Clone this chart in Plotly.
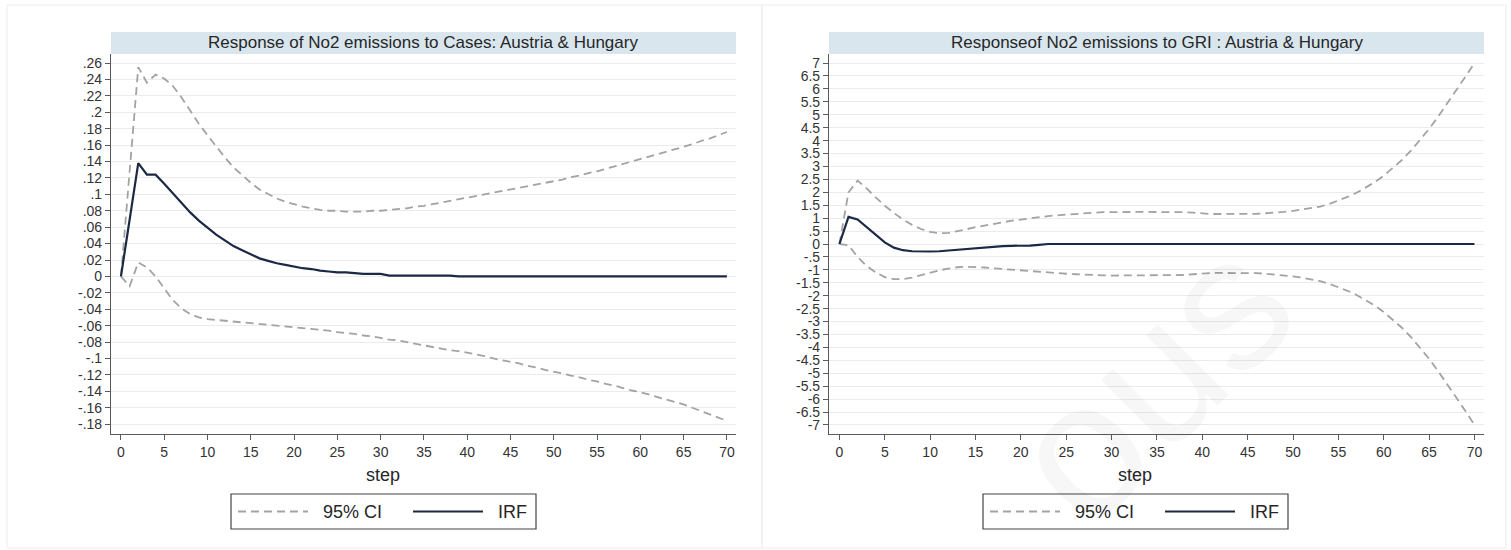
import plotly.graph_objects as go

# ---------------- data ----------------
steps = list(range(0, 71))

irf_cases = [0.0, 0.069, 0.138, 0.124, 0.124, 0.113, 0.101, 0.090, 0.078, 0.068,
             0.059, 0.051, 0.044, 0.037, 0.032, 0.027, 0.022, 0.019, 0.016, 0.014,
             0.012, 0.010, 0.009, 0.007, 0.006, 0.005, 0.005, 0.004, 0.003, 0.003,
             0.003, 0.001, 0.001, 0.001, 0.001, 0.001, 0.001, 0.001, 0.001, 0.0,
             0.0, 0.0, 0.0, 0.0, 0.0, 0.0, 0.0, 0.0, 0.0, 0.0,
             0.0, 0.0, 0.0, 0.0, 0.0, 0.0, 0.0, 0.0, 0.0, 0.0,
             0.0, 0.0, 0.0, 0.0, 0.0, 0.0, 0.0, 0.0, 0.0, 0.0, 0.0]
upper_cases = [0.0, 0.130, 0.255, 0.236, 0.246, 0.241, 0.232, 0.218, 0.202, 0.186,
               0.172, 0.158, 0.145, 0.133, 0.123, 0.114, 0.106, 0.100, 0.095, 0.091,
               0.088, 0.085, 0.083, 0.081, 0.080, 0.080, 0.079, 0.079, 0.079, 0.080,
               0.080, 0.081, 0.082, 0.083, 0.085, 0.086, 0.088, 0.090, 0.092, 0.094,
               0.096, 0.098, 0.100, 0.102, 0.104, 0.106, 0.108, 0.110, 0.112, 0.114,
               0.116, 0.118, 0.121, 0.123, 0.126, 0.128, 0.131, 0.134, 0.137, 0.140,
               0.143, 0.146, 0.149, 0.152, 0.155, 0.158, 0.161, 0.165, 0.168, 0.172, 0.176]
lower_cases = [0.0, -0.012, 0.017, 0.011, 0.000, -0.014, -0.029, -0.039, -0.046, -0.050,
               -0.052, -0.053, -0.054, -0.055, -0.056, -0.057, -0.058, -0.059, -0.060, -0.061,
               -0.062, -0.063, -0.064, -0.065, -0.066, -0.068, -0.069, -0.070, -0.072, -0.073,
               -0.075, -0.077, -0.078, -0.080, -0.082, -0.084, -0.086, -0.088, -0.090, -0.091,
               -0.093, -0.095, -0.097, -0.100, -0.102, -0.104, -0.106, -0.109, -0.111, -0.114,
               -0.116, -0.118, -0.121, -0.123, -0.126, -0.128, -0.131, -0.133, -0.136, -0.139,
               -0.141, -0.144, -0.147, -0.150, -0.153, -0.156, -0.160, -0.164, -0.168, -0.172, -0.176]

irf_gri = [0.0, 1.05, 0.95, 0.66, 0.34, 0.06, -0.14, -0.24, -0.28, -0.29,
           -0.29, -0.28, -0.25, -0.22, -0.19, -0.16, -0.13, -0.10, -0.08, -0.07,
           -0.07, -0.06, -0.03, 0.0, 0.0, 0.0, 0.0, 0.0, 0.0, 0.0,
           0.0, 0.0, 0.0, 0.0, 0.0, 0.0, 0.0, 0.0, 0.0, 0.0,
           0.0, 0.0, 0.0, 0.0, 0.0, 0.0, 0.0, 0.0, 0.0, 0.0,
           0.0, 0.0, 0.0, 0.0, 0.0, 0.0, 0.0, 0.0, 0.0, 0.0,
           0.0, 0.0, 0.0, 0.0, 0.0, 0.0, 0.0, 0.0, 0.0, 0.0, 0.0]
upper_gri = [0.0, 2.00, 2.45, 2.15, 1.80, 1.48, 1.20, 0.95, 0.74, 0.58,
             0.47, 0.42, 0.43, 0.49, 0.57, 0.65, 0.72, 0.79, 0.84, 0.90,
             0.95, 1.00, 1.05, 1.08, 1.11, 1.14, 1.17, 1.19, 1.21, 1.23,
             1.24, 1.24, 1.24, 1.24, 1.24, 1.24, 1.24, 1.24, 1.23, 1.21,
             1.18, 1.16, 1.16, 1.16, 1.16, 1.16, 1.17, 1.19, 1.21, 1.24,
             1.28, 1.33, 1.38, 1.45, 1.55, 1.67, 1.82, 1.98, 2.17, 2.39,
             2.64, 2.93, 3.25, 3.61, 4.01, 4.45, 4.93, 5.43, 5.95, 6.47, 7.00]
lower_gri = [0.0, -0.05, -0.50, -0.85, -1.10, -1.28, -1.36, -1.36, -1.30, -1.20,
             -1.10, -1.02, -0.95, -0.90, -0.88, -0.89, -0.91, -0.94, -0.97, -1.00,
             -1.02, -1.05, -1.08, -1.10, -1.12, -1.15, -1.17, -1.19, -1.20, -1.21,
             -1.22, -1.22, -1.22, -1.22, -1.22, -1.22, -1.22, -1.22, -1.20, -1.17,
             -1.14, -1.12, -1.12, -1.12, -1.12, -1.12, -1.13, -1.15, -1.18, -1.21,
             -1.25, -1.30, -1.36, -1.44, -1.54, -1.66, -1.81, -1.97, -2.16, -2.38,
             -2.63, -2.92, -3.24, -3.60, -4.00, -4.44, -4.92, -5.42, -5.94, -6.46, -7.00]

x_ticks = [0, 5, 10, 15, 20, 25, 30, 35, 40, 45, 50, 55, 60, 65, 70]

y_ticks_cases = [0.26, 0.24, 0.22, 0.20, 0.18, 0.16, 0.14, 0.12, 0.10, 0.08, 0.06, 0.04, 0.02, 0.0,
                 -0.02, -0.04, -0.06, -0.08, -0.10, -0.12, -0.14, -0.16, -0.18]
y_labels_cases = [".26", ".24", ".22", ".2", ".18", ".16", ".14", ".12", ".1", ".08", ".06", ".04", ".02", "0",
                  "-.02", "-.04", "-.06", "-.08", "-.1", "-.12", "-.14", "-.16", "-.18"]

y_ticks_gri = [7, 6.5, 6, 5.5, 5, 4.5, 4, 3.5, 3, 2.5, 2, 1.5, 1, 0.5, 0,
               -0.5, -1, -1.5, -2, -2.5, -3, -3.5, -4, -4.5, -5, -5.5, -6, -6.5, -7]
y_labels_gri = ["7", "6.5", "6", "5.5", "5", "4.5", "4", "3.5", "3", "2.5", "2", "1.5", "1", ".5", "0",
                "-.5", "-1", "-1.5", "-2", "-2.5", "-3", "-3.5", "-4", "-4.5", "-5", "-5.5", "-6", "-6.5", "-7"]

title_cases = "Response of No2 emissions to Cases: Austria & Hungary"
title_gri = "Responseof No2 emissions to GRI : Austria & Hungary"
x_title = "step"
legend_ci = "95% CI"
legend_irf = "IRF"

# ---------------- styling ----------------
W, H = 1511, 550
FONT = "Liberation Sans, Arial, sans-serif"
CI_COLOR = "#a3a3a3"
IRF_COLOR = "#1c2945"
AXIS_COLOR = "#5a5a5a"
GRID_COLOR = "#ebebeb"
BAND_COLOR = "#d9e6ee"
TEXT_COLOR = "#262626"


def px(x):
    return x / W


def py(y):
    return 1 - y / H


fig = go.Figure()

panels = [
    dict(xa="x", ya="y", irf=irf_cases, up=upper_cases, lo=lower_cases),
    dict(xa="x2", ya="y2", irf=irf_gri, up=upper_gri, lo=lower_gri),
]
for p in panels:
    fig.add_trace(go.Scatter(x=steps, y=p["up"], xaxis=p["xa"], yaxis=p["ya"], mode="lines",
                             line=dict(color=CI_COLOR, width=1.8, dash="8px,5px"),
                             showlegend=False, hoverinfo="skip"))
    fig.add_trace(go.Scatter(x=steps, y=p["lo"], xaxis=p["xa"], yaxis=p["ya"], mode="lines",
                             line=dict(color=CI_COLOR, width=1.8, dash="8px,5px"),
                             showlegend=False, hoverinfo="skip"))
    fig.add_trace(go.Scatter(x=steps, y=p["irf"], xaxis=p["xa"], yaxis=p["ya"], mode="lines",
                             line=dict(color=IRF_COLOR, width=2.2),
                             showlegend=False, hoverinfo="skip"))

common_x = dict(range=[-1.15, 71.05], tickvals=x_ticks, ticks="outside", ticklen=5,
                tickcolor=AXIS_COLOR, tickwidth=1, showline=True, linecolor=AXIS_COLOR,
                linewidth=1.2, showgrid=False, zeroline=False, automargin=False,
                tickfont=dict(family=FONT, size=14, color="#333333"), fixedrange=True)
common_y = dict(ticks="outside", ticklen=5, tickcolor=AXIS_COLOR, tickwidth=1,
                showline=True, linecolor=AXIS_COLOR, linewidth=1.2, showgrid=True,
                gridcolor=GRID_COLOR, gridwidth=1, zeroline=False, automargin=False,
                tickfont=dict(family=FONT, size=14, color="#333333"), fixedrange=True)

y_dom = [py(434), py(54)]
fig.update_layout(
    width=W, height=H, margin=dict(l=0, r=0, t=0, b=0),
    paper_bgcolor="white", plot_bgcolor="white", showlegend=False,
    xaxis=dict(domain=[px(111), px(736)], anchor="y", **common_x),
    yaxis=dict(domain=y_dom, anchor="x", range=[-0.192, 0.271],
               tickvals=y_ticks_cases, ticktext=y_labels_cases, **common_y),
    xaxis2=dict(domain=[px(829), px(1484)], anchor="y2", **common_x),
    yaxis2=dict(domain=y_dom, anchor="x2", range=[-7.35, 7.35],
                tickvals=y_ticks_gri, ticktext=y_labels_gri, **common_y),
)

shapes = []
annotations = []

# faint watermark (drawn first so everything else sits on top)
annotations.append(dict(xref="paper", yref="paper", x=px(1150), y=py(380),
                        xanchor="center", yanchor="middle",
                        text="ous", showarrow=False, textangle=-45,
                        font=dict(family=FONT, size=190, color="rgba(0,0,0,0.03)")))

# outer frames
shapes.append(dict(type="rect", xref="paper", yref="paper", x0=px(7), x1=px(1506),
                   y0=py(548), y1=py(5), line=dict(color="#ececec", width=1), layer="below"))
shapes.append(dict(type="line", xref="paper", yref="paper", x0=px(762), x1=px(762),
                   y0=py(548), y1=py(5), line=dict(color="#ececec", width=1.5), layer="below"))

# title bands
for (x0, x1, title) in [(111, 736, title_cases), (829, 1484, title_gri)]:
    shapes.append(dict(type="rect", xref="paper", yref="paper", x0=px(x0), x1=px(x1),
                       y0=py(54), y1=py(32), fillcolor=BAND_COLOR, line=dict(width=0),
                       layer="below"))
    annotations.append(dict(xref="paper", yref="paper", x=px((x0 + x1) / 2), y=py(43),
                            text=title, showarrow=False, xanchor="center", yanchor="middle",
                            font=dict(family=FONT, size=17, color=TEXT_COLOR)))

# axis titles and legends (manual, Stata-style)
for off in [0, 752]:
    annotations.append(dict(xref="paper", yref="paper", x=px(383 + off), y=py(475),
                            text=x_title, showarrow=False, xanchor="center", yanchor="middle",
                            font=dict(family=FONT, size=18, color=TEXT_COLOR)))
    shapes.append(dict(type="rect", xref="paper", yref="paper", x0=px(231 + off),
                       x1=px(536 + off), y0=py(529), y1=py(494),
                       line=dict(color="#444444", width=1.2), fillcolor="white"))
    shapes.append(dict(type="line", xref="paper", yref="paper", x0=px(238 + off),
                       x1=px(308 + off), y0=py(511.5), y1=py(511.5),
                       line=dict(color=CI_COLOR, width=1.8, dash="8px,5px")))
    shapes.append(dict(type="line", xref="paper", yref="paper", x0=px(413 + off),
                       x1=px(483 + off), y0=py(511.5), y1=py(511.5),
                       line=dict(color=IRF_COLOR, width=2.2)))
    annotations.append(dict(xref="paper", yref="paper", x=px(321 + off), y=py(512),
                            text=legend_ci, showarrow=False, xanchor="left", yanchor="middle",
                            font=dict(family=FONT, size=18, color=TEXT_COLOR)))
    annotations.append(dict(xref="paper", yref="paper", x=px(496 + off), y=py(512),
                            text=legend_irf, showarrow=False, xanchor="left", yanchor="middle",
                            font=dict(family=FONT, size=18, color=TEXT_COLOR)))

fig.update_layout(shapes=shapes, annotations=annotations)

# the page body has a default 8px margin; remove it so the figure fills the window
fig.write_html("out.html", config={"displayModeBar": False},
               post_script="document.body.style.margin='0';")
